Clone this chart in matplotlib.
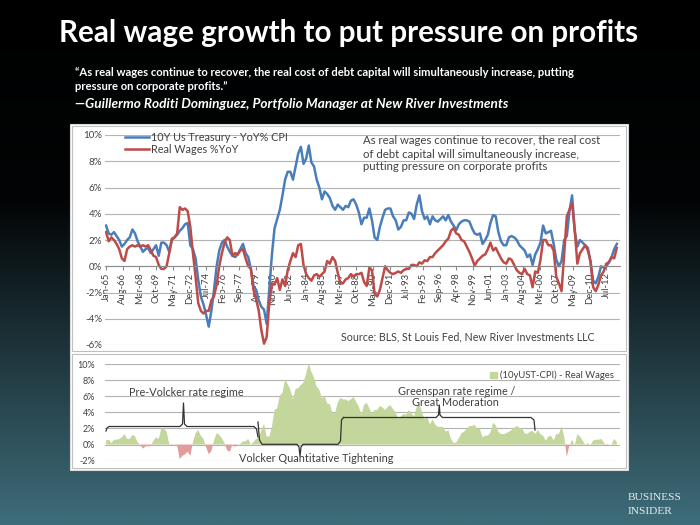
import numpy as np
import pandas as pd
import matplotlib
matplotlib.use('Agg')
import matplotlib.pyplot as plt
from matplotlib.colors import LinearSegmentedColormap
from matplotlib.patches import Rectangle, Patch
from matplotlib.lines import Line2D

plt.rcParams['font.family'] = ['Lato', 'DejaVu Sans']

W, H = 700, 525

# quarterly readings starting Jan-1965 (in %)
treasury_real = [
    3.1, 2.5, 2.4, 2.6,   2.3, 2.0, 1.5, 1.7,   2.0, 2.2, 2.8, 2.5,   1.9, 1.5, 1.1, 1.3,
    1.4, 1.0, 1.3, 1.6,   0.8, 1.8, 1.8, 1.6,   1.1, 2.0, 2.2, 2.4,   2.7, 2.9, 3.2, 3.3,
    1.6, 1.3, 0.6, -1.0,  -2.3, -2.9, -3.7, -4.6, -3.4, -1.8, 0.0, 1.2, 1.8, 2.0, 1.5, 1.1,
    0.8, 0.7, 0.9, 1.3,   1.7, 1.0, 0.7, -0.2,  -1.5, -1.8, -2.6, -3.1, -3.3, -4.4, -1.8, 0.9,
    2.9, 3.6, 4.3, 5.4,   6.6, 7.2, 7.2, 6.6,   7.6, 8.6, 9.1, 7.8,   8.2, 9.2, 7.9, 7.6,
    6.6, 6.0, 5.1, 5.7,   5.5, 5.2, 4.6, 4.3,   4.7, 4.5, 4.3, 4.6,   4.5, 5.0, 5.1, 4.7,
    4.1, 3.2, 3.7, 3.7,   4.4, 3.5, 2.2, 2.0,   3.0, 3.7, 4.3, 4.4,   4.4, 3.8, 3.5, 2.8,
    3.0, 3.5, 3.5, 4.1,   4.0, 3.6, 4.7, 5.4,   4.2, 3.6, 3.8, 3.2,   3.8, 3.5, 3.4, 3.6,
    3.8, 3.5, 3.9, 3.4,   3.1, 2.75, 3.2, 3.4,  3.5, 3.5, 3.4, 2.9,   2.5, 2.4, 2.5, 1.7,
    2.0, 2.4, 3.3, 3.9,   3.8, 2.6, 1.9, 1.6,   1.6, 2.2, 2.3, 2.2,   2.0, 1.6, 1.4, 1.2,
    0.7, 0.9, 0.1, 0.9,   1.3, 1.8, 3.1, 2.5,   2.6, 2.7, 1.7, 0.5,   0.0, 0.4, 2.0, 2.3,
    4.2, 5.4, 2.7, 1.5,   2.0, 1.8, 1.6, 1.4,   0.3, -1.1, -1.3, -0.8, 0.0, -0.1, 0.0, 0.3,
    0.7, 1.3, 1.7,
]
real_wages = [
    2.6, 1.9, 2.2, 2.0,   1.7, 1.3, 0.6, 0.4,   1.3, 1.5, 1.6, 1.5,   1.6, 1.5, 1.6, 1.5,
    1.6, 1.2, 0.8, 0.7,   0.1, -0.2, -0.2, 0.0, 1.0, 2.1, 2.2, 2.5,   4.5, 4.3, 4.4, 4.2,
    3.0, 1.0, -0.8, -2.8, -3.4, -3.6, -3.4, -3.4, -2.6, -2.3, -1.4, 0.0, 1.0, 1.8, 2.2, 2.0,
    0.8, 1.0, 0.9, 1.2,   1.3, 0.6, 0.0, -0.2,  -1.8, -2.5, -3.4, -4.9, -5.9, -5.4, -2.8, -1.3,
    -1.4, -0.9, -1.8, -1.0, -1.5, -0.3, 0.4, 1.0, 0.7, 1.6, 1.7, 0.1,  -0.6, -0.9, -1.1, -0.7,
    -0.6, -0.8, -0.6, -0.4, 0.4, 0.2, 0.7, 0.4,  -0.5, -1.3, -1.3, -1.0, -0.9, -0.6, -0.8, -0.6,
    -0.6, -0.5, -1.2, -1.5, -0.1, -0.3, -2.1, -2.3, -1.8, -0.9, 0.0, -0.3, -0.5, -0.6, -0.5, -0.4,
    -0.5, -0.3, -0.2, -0.2, 0.1, 0.1, 0.0, 0.3,  0.2, 0.45, 0.4, 0.7,  0.7, 1.0, 1.2, 1.4,
    1.6, 1.9, 2.1, 2.7,   2.9, 2.5, 2.4, 2.0,   1.9, 1.5, 1.1, 0.6,   0.05, 0.4, 0.6, 0.8,
    0.9, 1.3, 1.8, 1.2,   1.4, 1.0, 0.6, 0.3,   0.2, 0.6, 0.5, 0.1,   -0.3, -0.5, -0.6, -0.2,
    -0.6, -0.7, -1.6, -0.4, -0.5, 0.5, 2.0, 2.0, 1.6, 1.6, 1.2, -0.8,  -1.3, -1.9, 1.0, 3.8,
    4.3, 4.8, 2.8, 0.2,   1.0, 1.3, 1.6, 1.2,   0.4, -1.6, -1.9, -1.4, -0.7, -0.4, 0.2, 0.3,
    0.7, 0.6, 1.4,
]
tick_labels = ['Jan-65', 'Aug-66', 'Mar-68', 'Oct-69', 'May-71', 'Dec-72', 'Jul-74', 'Feb-76',
               'Sep-77', 'Apr-79', 'Nov-80', 'Jun-82', 'Jan-84', 'Aug-85', 'Mar-87', 'Oct-88',
               'May-90', 'Dec-91', 'Jul-93', 'Feb-95', 'Sep-96', 'Apr-98', 'Nov-99', 'Jun-01',
               'Jan-03', 'Aug-04', 'Mar-06', 'Oct-07', 'May-09', 'Dec-10', 'Jul-12']
upper_yticks = [-6, -4, -2, 0, 2, 4, 6, 8, 10]
lower_yticks = [-2, 0, 2, 4, 6, 8, 10]

BLUE = '#4a7ebb'
RED = '#be4b48'
GREEN = '#c3d69b'
PINK = '#e39c9c'
GRID = '#b3b3b3'
TXT = '#404040'


def px(x, y):
    # pixel position on the 700x525 slide -> figure fraction
    return x / W, 1 - y / H


def label_year(s):
    m = pd.to_datetime(s[:3], format='%b').month
    yy = int(s[-2:])
    return (1900 + yy if yy > 30 else 2000 + yy) + (m - 1) / 12


dates = pd.date_range('1965-01-01', periods=len(treasury_real), freq='QS')
t = np.array(dates.year + (dates.month - 1) / 12, dtype=float)
spread = np.array(treasury_real) - np.array(real_wages)

fig = plt.figure(figsize=(7, 5.25), dpi=100)

# slide background
bg = fig.add_axes([0, 0, 1, 1], zorder=-10)
cmap = LinearSegmentedColormap.from_list('slide', [(0, '#000000'), (0.38, '#020405'), (1, '#3e6d7a')])
bg.imshow(np.linspace(0, 1, 256)[:, None], aspect='auto', cmap=cmap, extent=[0, 1, 0, 1], origin='upper')
bg.axis('off')

# white chart panel
for (x0, y0, x1, y1, ec) in [(70, 124, 628, 470, '#d9d9d9'), (72, 126, 626, 351, '#bfbfbf'),
                             (72, 354, 626, 468, '#bfbfbf')]:
    fig.patches.append(Rectangle(px(x0, y1), (x1 - x0) / W, (y1 - y0) / H, transform=fig.transFigure,
                                 facecolor='white', edgecolor=ec, lw=0.8, zorder=-5))

# upper chart
ax1 = fig.add_axes([105 / W, 1 - 345 / H, 515 / W, 210 / H])
ax1.set_facecolor('none')
ax1.plot(t, treasury_real, color=BLUE, lw=1.8, label='10Y Us Treasury - YoY% CPI')
ax1.plot(t, real_wages, color=RED, lw=1.8, label='Real Wages %YoY')
ax1.set_xlim(1964.9, 2013.8)
ax1.set_ylim(-6, 10)
ax1.set_yticks(upper_yticks)
ax1.set_yticklabels([f'{v}%' for v in upper_yticks])
ax1.yaxis.grid(True, color=GRID, lw=0.8)
ax1.set_axisbelow(True)
for s in ['top', 'right', 'left']:
    ax1.spines[s].set_visible(False)
ax1.spines['bottom'].set_position(('data', 0))
ax1.spines['bottom'].set_color('#8c8c8c')
ax1.set_xticks([label_year(s) for s in tick_labels])
ax1.set_xticklabels(tick_labels, rotation=90, fontsize=6.8, color=TXT)
ax1.tick_params(axis='x', length=3, color='#8c8c8c', pad=1.5)
ax1.tick_params(axis='y', length=0, pad=2, labelsize=7, labelcolor=TXT)
ax1.legend(loc='upper left', bbox_to_anchor=(0.03, 1.035), frameon=False, fontsize=7.8,
           handlelength=2.2, handletextpad=0.2, labelspacing=0.12, borderaxespad=0,
           labelcolor=TXT)

note = ['As real wages continue to recover, the real cost',
        'of debt capital will simultaneously increase,',
        'putting pressure on corporate profits']
for i, line in enumerate(note):
    fig.text(*px(363, 141 + 13 * i), line, fontsize=8.2, color=TXT, va='center')
fig.text(*px(341, 336.5), 'Source: BLS, St Louis Fed, New River Investments LLC', fontsize=7.7,
         color=TXT, va='center')

# lower chart
ax2 = fig.add_axes([105 / W, 1 - 460.7 / H, 515 / W, 96.7 / H])
ax2.set_facecolor('none')
ax2.fill_between(t, spread, 0, where=spread >= 0, interpolate=True, color=GREEN, lw=0)
ax2.fill_between(t, spread, 0, where=spread < 0, interpolate=True, color=PINK, lw=0)
ax2.set_xlim(1964.9, 2013.8)
ax2.set_ylim(-2, 10)
ax2.set_yticks(lower_yticks)
ax2.set_yticklabels([f'{v}%' for v in lower_yticks])
ax2.yaxis.grid(True, color=GRID, lw=0.8)
ax2.set_axisbelow(True)
ax2.set_xticks([])
for s in ax2.spines.values():
    s.set_visible(False)
ax2.tick_params(axis='y', length=0, pad=7, labelsize=6.5, labelcolor=TXT)
ax2.legend(handles=[Patch(color=GREEN, label='(10yUST-CPI) - Real Wages')], loc='upper right',
           frameon=False, fontsize=6.8, handlelength=0.7, handleheight=0.7, handletextpad=0.3,
           borderaxespad=0.3, labelcolor=TXT)

# regime braces
braces = [
    [(106, 431), (107, 428), (109, 426.5), (180, 426.5), (182.5, 424), (183.5, 403), (184.5, 424),
     (187, 426.5), (254, 426.5), (256.5, 429), (258, 437)],
    [(258, 422), (259.5, 440), (262, 444.3), (297, 444.3), (299, 447), (300, 456), (301, 447),
     (303, 444.3), (338, 444.3), (340.5, 441), (341.5, 420), (343.5, 417.5)],
    [(343.5, 417.5), (436, 417.5), (438.5, 415), (439.3, 405), (440, 415), (442.5, 417.5),
     (531, 417.5), (534, 420), (535, 430)],
]
for pts in braces:
    xs, ys = zip(*[px(x, y) for x, y in pts])
    fig.add_artist(Line2D(xs, ys, transform=fig.transFigure, color='#333333', lw=0.9))

fig.text(*px(186, 392), 'Pre-Volcker rate regime', fontsize=7.8, color=TXT, ha='center', va='center')
fig.text(*px(316, 459), 'Volcker Quantitative Tightening', fontsize=7.8, color=TXT, ha='center', va='center')
fig.text(*px(457, 391.5), 'Greenspan rate regime /', fontsize=7.8, color=TXT, ha='center', va='center')
fig.text(*px(455, 402.5), 'Great Moderation', fontsize=7.8, color=TXT, ha='center', va='center')

# slide text
fig.text(*px(349, 33), 'Real wage growth to put pressure on profits', fontsize=21.3, fontweight='bold',
         color='white', ha='center', va='center')
fig.text(*px(75, 73), '\u201cAs real wages continue to recover, the real cost of debt capital will '
         'simultaneously increase, putting', fontsize=8.1, fontweight='bold', color='white', va='center')
fig.text(*px(75, 87), 'pressure on corporate profits.\u201d', fontsize=8.1, fontweight='bold',
         color='white', va='center')
fig.text(*px(75, 104), '\u2014Guillermo Roditi Dominguez, Portfolio Manager at New River Investments',
         fontsize=9.8, style='italic', fontweight='bold', color='white', va='center')
fig.text(*px(628, 498), 'BUSINESS', fontsize=8.2, family='Liberation Serif', color='#e6ecee', va='center')
fig.text(*px(628, 511), 'INSIDER', fontsize=8.2, family='Liberation Serif', color='#e6ecee', va='center')

fig.savefig('out.png', dpi=100)
